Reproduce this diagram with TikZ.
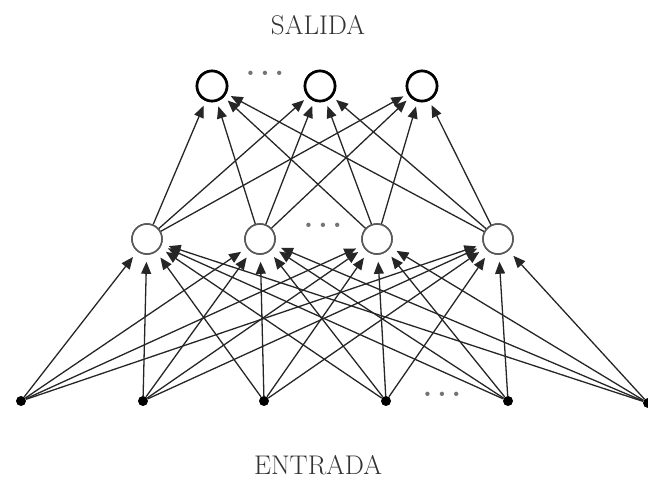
\documentclass[tikz,border=0pt]{standalone}
\usetikzlibrary{arrows.meta}
\begin{document}
\begin{tikzpicture}[x=1pt,y=-1pt,
  inp/.style={circle,fill=black,inner sep=0pt,minimum size=10pt},
  hid/.style={circle,draw=black!65,line width=1.6pt,fill=white,inner sep=0pt,minimum size=30pt},
  outn/.style={circle,draw=black,line width=2.6pt,fill=white,inner sep=0pt,minimum size=30pt},
  conn/.style={draw=black!85,line width=1.3pt,-{Triangle[length=12pt,width=10pt]},shorten >=5pt},
  lbl/.style={font=\fontsize{27}{30}\selectfont,text=black!80},
  dots/.style={font=\fontsize{30}{32}\selectfont\bfseries,text=black!55}]
\useasboundingbox (0,0) rectangle (648,482);
% input layer
\node[inp] (i1) at (21,401) {};
\node[inp] (i2) at (143,401) {};
\node[inp] (i3) at (264,401) {};
\node[inp] (i4) at (386,401) {};
\node[inp] (i5) at (508,401) {};
\node[inp] (i6) at (648,403) {};
% hidden layer
\node[hid] (h1) at (147,239) {};
\node[hid] (h2) at (260,239) {};
\node[hid] (h3) at (377,239) {};
\node[hid] (h4) at (498,239) {};
% output layer
\node[outn] (o1) at (212,86) {};
\node[outn] (o2) at (320,86) {};
\node[outn] (o3) at (422,86) {};
% connections
\foreach \i in {1,...,6}{
  \foreach \h in {1,...,4}{
    \draw[conn,shorten >=7pt] (i\i) -- (h\h);
  }
}
\foreach \h in {1,...,4}{
  \foreach \o in {1,...,3}{
    \draw[conn] (h\h) -- (o\o);
  }
}
% redraw nodes on top
\node[hid] at (h1) {};
\node[hid] at (h2) {};
\node[hid] at (h3) {};
\node[hid] at (h4) {};
\node[outn] at (o1) {};
\node[outn] at (o2) {};
\node[outn] at (o3) {};
% labels
\node[lbl] (sal) at (318,25) {SALIDA};
\node[lbl] (ent) at (318,465) {ENTRADA};
\node[dots] (d1) at (265,73) {.\hspace{5pt}.\hspace{5pt}.};
\node[dots] (d2) at (323,225) {.\hspace{5pt}.\hspace{5pt}.};
\node[dots] (d3) at (442,394) {.\hspace{5pt}.\hspace{5pt}.};
\end{tikzpicture}
\end{document}
